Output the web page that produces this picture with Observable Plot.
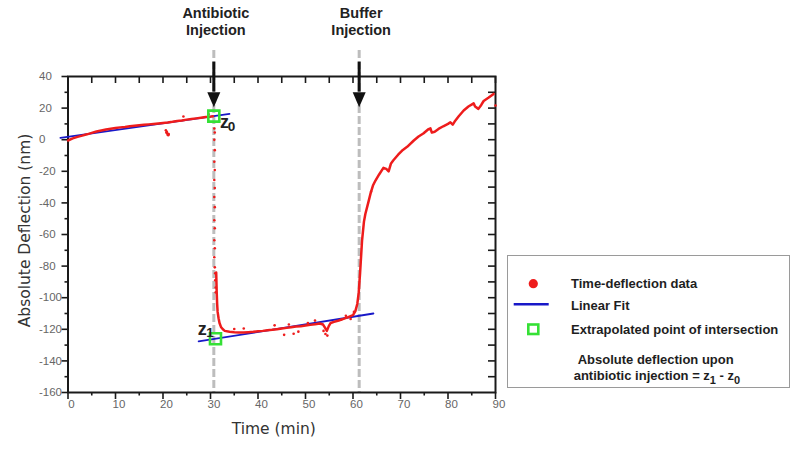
<!DOCTYPE html>
<html><head><meta charset="utf-8">
<script src="https://cdn.jsdelivr.net/npm/d3@7"></script>
<script src="https://cdn.jsdelivr.net/npm/@observablehq/plot@0.6"></script>
<style>
body{margin:0;background:#fff;}
#wrap{position:relative;width:790px;height:449px;overflow:hidden;}
#legend{position:absolute;left:507px;top:255px;width:281px;height:131px;border:1px solid #9a9a9a;background:#fff;}
#legend text{font-family:"Liberation Sans",Arial,sans-serif;font-weight:bold;font-size:13px;fill:#1e1e1e;}
</style></head><body><div id="wrap"></div>
<script>
// ---- data (time in min, deflection in nm) ----
const preTime = [0,1,2,3,4,5,6,7,8,9,10,11,12,13,14,15,16,17,18,19,20,21,22,23,24,25,26,27,28,29,30,30.5];
const preDef  = [-0.5,0.8,1.8,2.6,3.4,4.3,5.2,5.8,6.4,6.9,7.4,7.8,8.1,8.5,8.8,9.1,9.4,9.7,10,10.3,10.6,10.9,11.3,11.8,12.2,12.7,13.1,13.5,13.9,14.3,14.6,14.8];

const postTime = [31.2,31.3,31.4,31.5,31.7,31.9,32.2,32.6,33,34,35,36,37,38,39,40,41,42,43,44,45,46,47,48,49,50,51,52,53,53.7,54.1,54.5,54.9,55.3,56,57,58,59,60,60.5,60.9,61.2,61.5,61.9,62.3,62.6,63.2,63.7,64.2,64.7,65.5,66.4,67,67.5,68,68.5,69.5,70.5,71.4,72.8,73.8,74.8,75.8,76.3,76.6,77.2,78,79,80,80.5,81,81.4,82.3,83.3,84.3,85.4,85.7,86.4,87,87.5,88.5,89.6];
const postDef  = [-84,-96,-104,-109,-113,-116,-118.5,-120,-121,-121.6,-121.9,-122,-122,-121.8,-121.6,-121.3,-121,-120.6,-120.3,-119.9,-119.5,-119.1,-118.7,-118.3,-118,-117.6,-117.2,-116.8,-116.3,-117,-119,-121,-118,-116,-115.3,-114.4,-113.4,-112.3,-111,-108.5,-104,-97,-84,-64,-52,-47,-40,-34,-29,-26,-22,-17.8,-18.5,-20,-15,-13,-9.5,-6.5,-4.5,-0.5,2,3.9,6.5,7.2,4.5,5,6.8,8.5,10,11,9.5,11.5,15,18.5,21,23,21,19.5,22,24.5,26.5,29];

const scatterTime = [20.6,20.7,20.8,20.9,21,21.1,21.2,24.3,29.6,
  30.8,30.9,30.8,30.9,30.8,30.9,30.8,30.9,30.8,30.9,30.8,30.9,30.8,30.9,30.8,30.9,31,31,31.1,31.1,
  35,37,43.5,45.5,46.5,47.5,48.5,50.5,52,53.8,54.2,54.6,57.5,58.5,59.5,60.2,63.8,90];
const scatterDef  = [6,4.5,5,4,3.2,2.8,3.5,14.7,16,
  7.1,4.6,-0.1,-6.6,-14,-19.2,-25.5,-30.6,-36.3,-42.7,-51,-56,-63.6,-68.7,-74.4,-80.8,-84.6,-89,-93.5,-96.6,
  -119.8,-119.5,-117.5,-123.5,-117,-122.8,-121.5,-116,-114.5,-121,-123,-124,-114,-111.5,-113.5,-109,-33,21.6];

const fitPreTime = [-1.6, 34],   fitPreDef = [1.2, 16.4];
const fitPostTime = [27.5, 64.3], fitPostDef = [-127.7, -110];

const zTime = [30.7, 31.05], zDef = [14.9, -126], zSub = ["0", "1"];

const eventTime = [30.7, 61.3];
const eventLabel = ["Antibiotic\nInjection", "Buffer\nInjection"];

const xMajorTicks = [0,10,20,30,40,50,60,70,80,90];
const xMinorTicks = [5,15,25,35,45,55,65,75,85];
const xTopTicks = [0,5,10,15,20,25,30,35,40,45,50,55,60,65,70,75,80,85,90];
const yMajorTicks = [-160,-140,-120,-100,-80,-60,-40,-20,0,20,40];
const yMinorTicks = [-150,-130,-110,-90,-70,-50,-30,-10,10,30];
const yRightTicks = [-150,-140,-130,-120,-110,-100,-90,-80,-70,-60,-50,-40,-30,-20,-10,0,10,20,30];

const xTitle = "Time (min)";
const yTitle = "Absolute Deflection (nm)";

// ---- tables ----
const rows = (ts, ds) => ts.map((t, i) => ({t, d: ds[i]}));
const pre = rows(preTime, preDef);
const post = rows(postTime, postDef);
const scatter = rows(scatterTime, scatterDef);
const fitPre = rows(fitPreTime, fitPreDef);
const fitPost = rows(fitPostTime, fitPostDef);
const zPts = zTime.map((t, i) => ({t, d: zDef[i], sub: zSub[i]}));

const RED = "#ee1c1c", BLUE = "#1818c8", GREEN = "#35e035";
const tickFont = "Liberation Sans, Arial, sans-serif";
const titleFont = "DejaVu Sans, sans-serif";

const arrowHead = {draw(ctx) { ctx.moveTo(-6.5, -7.5); ctx.lineTo(6.5, -7.5); ctx.lineTo(0, 7.5); ctx.closePath(); }};
const squareSym = {draw(ctx) { ctx.rect(-5.5, -5.5, 11, 11); }};
const noLabel = () => "";

const chart = Plot.plot({
  width: 790, height: 449,
  marginLeft: 67.5, marginRight: 295, marginTop: 76, marginBottom: 57,
  x: {domain: [0, 90], label: null},
  y: {domain: [-160, 40], label: null},
  style: {fontFamily: tickFont, background: "white", overflow: "visible"},
  marks: [
    // injection guide lines
    Plot.ruleX(eventTime, {x: d => d, insetTop: -26, stroke: "#bdbdbd", strokeWidth: 3, strokeDasharray: "8,3"}),
    // axes ticks
    Plot.axisY({ticks: yMajorTicks, tickSize: 6, tickFormat: noLabel, label: null, stroke: "#1a1a1a", strokeWidth: 1.6}),
    Plot.axisY({ticks: yMinorTicks, tickSize: 3, tickFormat: noLabel, label: null, stroke: "#1a1a1a", strokeWidth: 1.6}),
    Plot.axisY({anchor: "left", frameAnchor: "right", ticks: yRightTicks, tickSize: 7, tickFormat: noLabel, label: null, stroke: "#1a1a1a", strokeWidth: 1.6}),
    Plot.axisX({ticks: xMajorTicks, tickSize: 7, tickFormat: noLabel, label: null, stroke: "#1a1a1a", strokeWidth: 1.6}),
    Plot.axisX({ticks: xMinorTicks, tickSize: 3.5, tickFormat: noLabel, label: null, stroke: "#1a1a1a", strokeWidth: 1.6}),
    Plot.axisX({anchor: "bottom", frameAnchor: "top", ticks: xTopTicks, tickSize: 7, tickFormat: noLabel, label: null, stroke: "#1a1a1a", strokeWidth: 1.6}),
    // tick labels
    Plot.text(yMajorTicks, {y: d => d, text: d => String(d), frameAnchor: "left", textAnchor: "start", dx: -29, fill: "#666", fontSize: 11.5}),
    Plot.text(xMajorTicks, {x: d => d, text: d => String(d), frameAnchor: "bottom", dx: 3.5, dy: 15.7, fill: "#666", fontSize: 11.5}),
    // axis titles
    Plot.text([xTitle], {text: d => d, frameAnchor: "bottom", dx: -8, dy: 41, fontSize: 15.5, fontFamily: titleFont, fill: "#333"}),
    Plot.text([yTitle], {text: d => d, frameAnchor: "left", textAnchor: "middle", rotate: -90, dx: -42.5, dy: -4, fontSize: 15.5, fontFamily: titleFont, fill: "#333"}),
    // frame
    Plot.frame({stroke: "#1a1a1a", strokeWidth: 2}),
    // linear fits
    Plot.line(fitPre, {x: "t", y: "d", stroke: BLUE, strokeWidth: 1.8}),
    Plot.line(fitPost, {x: "t", y: "d", stroke: BLUE, strokeWidth: 1.8}),
    // data
    Plot.line(pre, {x: "t", y: "d", stroke: RED, strokeWidth: 2.5}),
    Plot.line(post, {x: "t", y: "d", stroke: RED, strokeWidth: 2.5}),
    Plot.dot(scatter, {x: "t", y: "d", r: 1.3, fill: RED, stroke: "none"}),
    // extrapolated points
    Plot.dot(zPts, {x: "t", y: "d", symbol: squareSym, r: 6, fill: "none", stroke: GREEN, strokeWidth: 2.6}),
    Plot.text([zPts[0]], {x: "t", y: "d", text: () => "z", dx: 10.7, dy: 6.3, fontSize: 18, fontWeight: "bold", fill: "#222"}),
    Plot.text([zPts[0]], {x: "t", y: "d", text: "sub", dx: 17.7, dy: 11, fontSize: 13.5, fontWeight: "bold", fill: "#222"}),
    Plot.text([zPts[1]], {x: "t", y: "d", text: () => "z", dx: -13.3, dy: -9.7, fontSize: 18, fontWeight: "bold", fill: "#222"}),
    Plot.text([zPts[1]], {x: "t", y: "d", text: "sub", dx: -5.5, dy: -5.7, fontSize: 13.5, fontWeight: "bold", fill: "#222"}),
    // injection arrows and labels
    Plot.ruleX(eventTime, {x: d => d, insetTop: -14.3, insetBottom: 300.3, stroke: "#111", strokeWidth: 3}),
    Plot.dot(eventTime, {x: d => d, frameAnchor: "top", dy: 23.2, symbol: arrowHead, r: 6, fill: "#111", stroke: "none"}),
    Plot.text(eventTime, {x: d => d, text: (d, i) => eventLabel[i], frameAnchor: "top", dx: 2, dy: -55.5, lineAnchor: "middle", lineHeight: 1.21, fontSize: 14.5, fontWeight: "bold", fill: "#222"})
  ]
});

const wrap = document.getElementById("wrap");
wrap.appendChild(chart);

// legend (HTML overlay with inline SVG symbols)
const legend = document.createElement("div");
legend.id = "legend";
legend.innerHTML = `<svg width="281" height="131">
  <circle cx="25.3" cy="27.7" r="4.6" fill="${RED}"/>
  <text x="63" y="31.7">Time-deflection data</text>
  <line x1="5.7" x2="40.7" y1="48.3" y2="48.3" stroke="${BLUE}" stroke-width="2.5"/>
  <text x="63" y="54">Linear Fit</text>
  <rect x="20.3" y="68.5" width="10" height="9.5" fill="none" stroke="${GREEN}" stroke-width="2.6"/>
  <text x="63" y="77.5">Extrapolated point of intersection</text>
  <text x="69.7" y="108.3">Absolute deflection upon</text>
  <text x="65.7" y="124.3">antibiotic injection = z<tspan font-size="11" dy="3.5">1</tspan><tspan dy="-3.5"> - z</tspan><tspan font-size="11" dy="3.5">0</tspan></text>
</svg>`;
wrap.appendChild(legend);
</script></body></html>
